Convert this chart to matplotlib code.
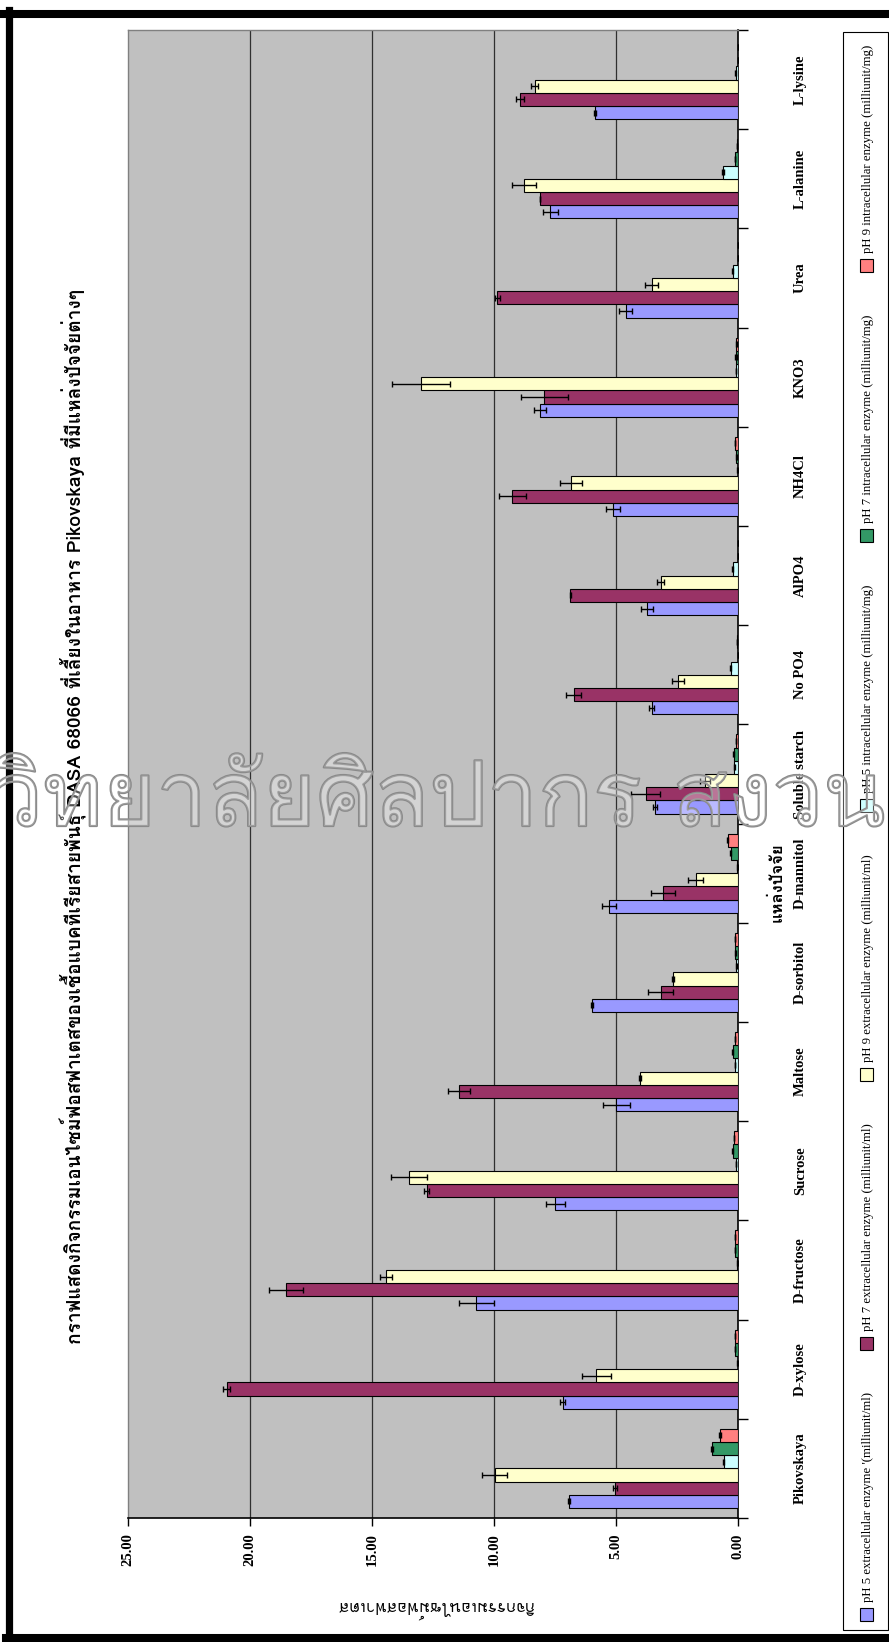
import matplotlib
matplotlib.use('Agg')
import matplotlib.pyplot as plt
import matplotlib.patheffects as pe
import numpy as np
from matplotlib import font_manager
from matplotlib.ft2font import FT2Font
from matplotlib.patches import Rectangle
from matplotlib.lines import Line2D
from matplotlib.transforms import blended_transform_factory

ANCHO, ALTO = 889, 1642

categorias = ['Pikovskaya', 'D-xylose', 'D-fructose', 'Sucrose', 'Maltose', 'D-sorbitol',
              'D-mannitol', 'Soluble starch', 'No PO4', 'AlPO4', 'NH4Cl', 'KNO3', 'Urea',
              'L-alanine', 'L-lysine']

# actividad extracelular (milliunit/ml)
ph5_ext = [6.92, 7.19, 10.72, 7.49, 4.99, 5.98, 5.29, 3.40, 3.53, 3.74, 5.13, 8.12, 4.61, 7.69, 5.88]
ph5_ext_err = [0.05, 0.10, 0.73, 0.38, 0.55, 0.05, 0.30, 0.10, 0.10, 0.25, 0.28, 0.25, 0.28, 0.30, 0.04]
ph7_ext = [5.04, 20.95, 18.53, 12.76, 11.42, 3.17, 3.08, 3.79, 6.73, 6.87, 9.25, 7.94, 9.87, 8.12, 8.93]
ph7_ext_err = [0.07, 0.15, 0.70, 0.10, 0.45, 0.50, 0.50, 0.60, 0.30, 0.03, 0.55, 0.97, 0.10, 0.0, 0.15]
ph9_ext = [9.97, 5.80, 14.42, 13.48, 4.02, 2.66, 1.73, 1.36, 2.45, 3.17, 6.83, 13.00, 3.53, 8.76, 8.34]
ph9_ext_err = [0.52, 0.60, 0.25, 0.73, 0.03, 0.03, 0.30, 0.20, 0.25, 0.15, 0.45, 1.20, 0.27, 0.50, 0.15]
# actividad intracelular (milliunit/mg)
ph5_int = [0.59, 0.02, 0.03, 0.08, 0.13, 0.07, 0.03, 0.15, 0.30, 0.22, 0.02, 0.08, 0.22, 0.62, 0.10]
ph5_int_err = [0.03, 0.01, 0.01, 0.01, 0.01, 0.01, 0.01, 0.02, 0.02, 0.02, 0.01, 0.01, 0.02, 0.03, 0.02]
ph7_int = [1.07, 0.12, 0.12, 0.22, 0.22, 0.12, 0.30, 0.17, 0.01, 0.01, 0.07, 0.07, 0.02, 0.12, 0.02]
ph7_int_err = [0.05, 0.01, 0.01, 0.03, 0.03, 0.02, 0.02, 0.02, 0.0, 0.0, 0.01, 0.04, 0.0, 0.01, 0.0]
ph9_int = [0.72, 0.13, 0.13, 0.17, 0.13, 0.12, 0.42, 0.08, 0.05, 0.01, 0.13, 0.07, 0.02, 0.03, 0.02]
ph9_int_err = [0.04, 0.01, 0.01, 0.01, 0.01, 0.01, 0.02, 0.01, 0.0, 0.0, 0.01, 0.01, 0.0, 0.0, 0.0]

leyenda = ["pH 5 extracellular enzyme '(milliunit/ml)",
           'pH 7 extracellular enzyme (milliunit/ml)',
           'pH 9 extracellular enzyme (milliunit/ml)',
           'pH 5 intracellular enzyme (milliunit/mg)',
           'pH 7 intracellular enzyme (milliunit/mg)',
           'pH 9 intracellular enzyme (milliunit/mg)']
colores = ['#9999FF', '#993366', '#FFFFCC', '#CCFFFF', '#339966', '#FF8080']
ticks_valor = [0, 5, 10, 15, 20, 25]

titulo = 'กราฟแสดงกิจกรรมเอนไซม์ฟอสฟาเตสของเชื้อแบคทีเรียสายพันธุ์ DASA 68066 ที่เลี้ยงในอาหาร Pikovskaya ที่มีแหล่งปัจจัยต่างๆ'
titulo_valor = 'กิจกรรมเอนไซม์ฟอสฟาเตส'
titulo_cat = 'แหล่งปัจจัย'
marca = 'มหาวิทยาลัยศิลปากร สงวนลิขสิทธิ์'


def fuente_thai():
    preferidas = ['Garuda', 'Loma', 'Norasi', 'Kinnari', 'TH Sarabun New', 'Noto Serif Thai',
                  'Noto Sans Thai', 'Waree', 'Umpush', 'Tlwg Typo']
    encontradas = []
    for f in font_manager.fontManager.ttflist:
        try:
            if 0x0E01 in FT2Font(f.fname).get_charmap():
                encontradas.append(f.name)
        except Exception:
            pass
    for nombre in preferidas:
        if nombre in encontradas:
            return nombre
    if encontradas:
        return encontradas[0]
    return 'DejaVu Sans'


def fx(x):
    return x / ANCHO


def fy(y):
    return 1 - y / ALTO


thai = fuente_thai()
serif = 'Liberation Serif'

fig = plt.figure(figsize=(ANCHO / 100, ALTO / 100), dpi=100)
ax = fig.add_axes([fx(128), fy(1518), 610 / ANCHO, 1488 / ALTO])
ax.set_facecolor('#C0C0C0')

series = [(ph5_ext, ph5_ext_err), (ph7_ext, ph7_ext_err), (ph9_ext, ph9_ext_err),
          (ph5_int, ph5_int_err), (ph7_int, ph7_int_err), (ph9_int, ph9_int_err)]
y = np.arange(len(categorias))
h = 1 / 7.5
for i, ((vals, err), col) in enumerate(zip(series, colores)):
    ax.barh(y + (i - 2.5) * h, vals, height=h, color=col, edgecolor='black', linewidth=0.8,
            xerr=err, error_kw=dict(ecolor='black', elinewidth=1, capsize=2.5, capthick=1),
            zorder=3)

for v in ticks_valor[1:-1]:
    ax.axvline(v, color='#303030', lw=0.9, zorder=1)

ax.set_xlim(25, 0)
ax.set_ylim(-0.5, len(categorias) - 0.5)
ax.set_xticks(ticks_valor)
ax.set_xticklabels([f'{v:.2f}' for v in ticks_valor], rotation=90, fontweight='bold',
                   family=serif, fontsize=10.5)
ax.tick_params(axis='x', direction='out', length=6, width=1, pad=5)
ax.set_yticks(np.arange(-0.5, len(categorias), 1))
ax.set_yticklabels([])
ax.yaxis.tick_right()
ax.tick_params(axis='y', direction='out', length=7, width=1)

for lado in ['left', 'top']:
    ax.spines[lado].set_color('#808080')
    ax.spines[lado].set_linewidth(1)
for lado in ['right', 'bottom']:
    ax.spines[lado].set_color('black')
    ax.spines[lado].set_linewidth(1.2)

trans = blended_transform_factory(ax.transAxes, ax.transData)
for i, cat in enumerate(categorias):
    ax.text(1.102, i, cat, transform=trans, rotation=90, ha='center', va='center',
            fontweight='bold', family=serif, fontsize=10.5)

# titulos
fig.text(fx(74), fy(816), titulo, rotation=90, ha='center', va='center', fontsize=13.8,
         fontweight='bold', family=[thai, serif])
fig.text(fx(436), fy(1606), titulo_valor, rotation=180, ha='center', va='center', fontsize=12,
         family=[thai, serif])
fig.text(fx(777), fy(882), titulo_cat, rotation=90, ha='center', va='center', fontsize=12,
         fontweight='bold', family=[thai, serif])

# marco exterior
fig.add_artist(Line2D([fx(0), fx(ANCHO)], [fy(14), fy(14)], color='black', lw=5.8))
fig.add_artist(Line2D([fx(9), fx(9)], [fy(10), fy(ALTO)], color='black', lw=5.2))
fig.add_artist(Line2D([fx(6), fx(ANCHO)], [fy(1638), fy(1638)], color='black', lw=5.8))

# leyenda vertical
fig.add_artist(Rectangle((fx(843), fy(1630)), 45 / ANCHO, (1630 - 32) / ALTO, fill=False,
                         edgecolor='black', lw=0.8, transform=fig.transFigure))
fig.canvas.draw()
rend = fig.canvas.get_renderer()
textos = []
largos = []
for nombre in leyenda:
    t = fig.text(fx(868), 0.5, nombre, rotation=90, ha='center', va='bottom', fontsize=9.2,
                 family=serif)
    largos.append(t.get_window_extent(rend).height)
    textos.append(t)
cuadro = 13
hueco = 6
libre = (1630 - 32) - 22 - sum(cuadro + hueco + l for l in largos)
sep = libre / (len(leyenda) - 1)
pos = 1621
for t, l, col in zip(textos, largos, colores):
    fig.add_artist(Rectangle((fx(866 - cuadro / 2), fy(pos)), cuadro / ANCHO, cuadro / ALTO,
                             facecolor=col, edgecolor='black', lw=0.8, transform=fig.transFigure))
    pos -= cuadro + hueco
    t.set_position((fx(868), fy(pos)))
    pos -= l + sep


# marca de agua: texto hueco que cruza la figura
def ancho_texto(s, size):
    t = fig.text(0, 0, s, fontsize=size, family=thai)
    w = t.get_window_extent(rend).width
    t.remove()
    return w


w_mha = ancho_texto('มหา', 100)
w_pre = ancho_texto('มหาวิทยาลัยศิลปากร', 100)
tam = 100 * 650 / (w_pre - w_mha)
x0 = -8 - w_mha * tam / 100
fig.text(fx(x0), fy(826), marca, fontsize=tam, family=thai, ha='left', va='baseline',
         color=(1, 1, 1, 0.18), zorder=10,
         path_effects=[pe.withStroke(linewidth=1.6, foreground='#8a8a8a')])

fig.savefig('out.png', dpi=100, facecolor='white')
